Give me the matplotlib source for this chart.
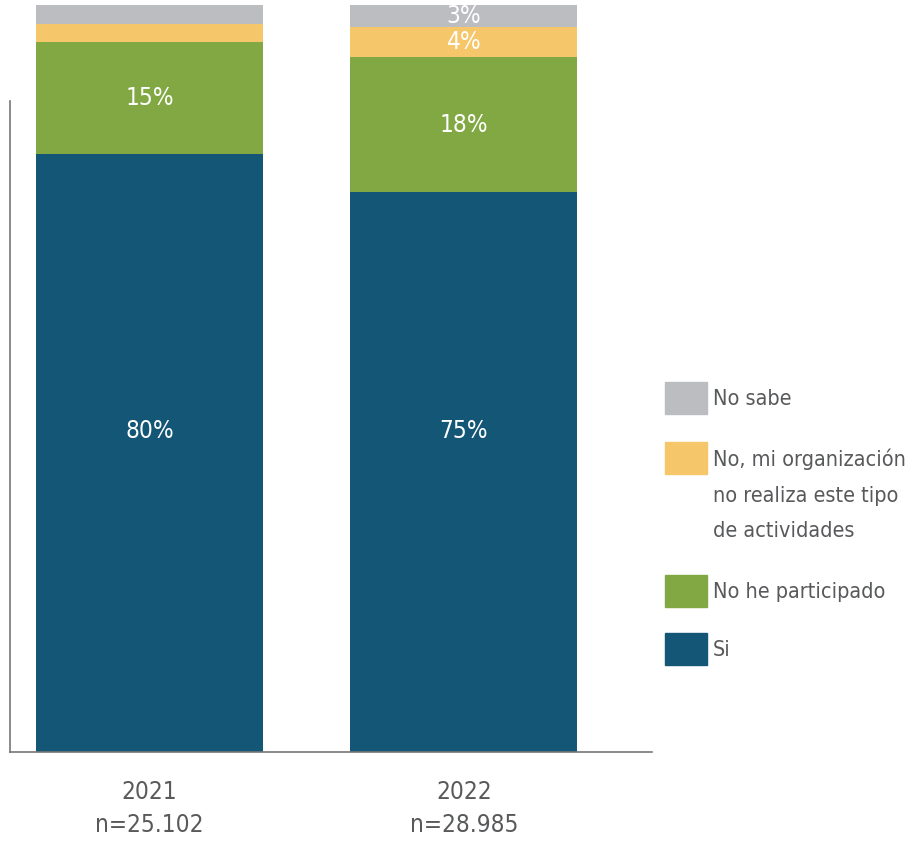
import matplotlib
matplotlib.use("Agg")
import matplotlib.pyplot as plt
from matplotlib.patches import Rectangle
import numpy as np

plt.rcParams['font.family'] = ['DejaVu Sans']
plt.rcParams['font.stretch'] = 'condensed'

years = ["2021\nn=25.102", "2022\nn=28.985"]
series = ["Si", "No he participado", "No, mi organización\nno realiza este tipo\nde actividades", "No sabe"]
si = [80, 75]
no_part = [15, 18]
no_org = [2.5, 4]
no_sabe = [2.5, 3]
labels_si = ["80%", "75%"]
labels_part = ["15%", "18%"]
labels_org = ["", "4%"]
labels_sabe = ["", "3%"]

colors = ["#135676", "#82a844", "#f5c66a", "#bcbdc0"]
txt = "#58595b"

fig = plt.figure(figsize=(9.07, 8.42), dpi=100)
ax = fig.add_axes([10 / 907, 1 - 752 / 842, 642 / 907, 747 / 842])

x = np.arange(len(years))
w = 0.722
vals = [si, no_part, no_org, no_sabe]
labs = [labels_si, labels_part, labels_org, labels_sabe]
bottom = np.zeros(len(years))
for i, (v, l) in enumerate(zip(vals, labs)):
    v = np.array(v, dtype=float)
    ax.bar(x, v, width=w, bottom=bottom, color=colors[i], edgecolor="none")
    for j in range(len(years)):
        if l[j]:
            yc = bottom[j] + v[j] / 2
            if i == 0:
                yc = 43
            ax.text(x[j], yc, l[j], ha="center", va="center", color="white", fontsize=17.5)
    bottom += v

ax.set_xlim(-0.4436, 1.598)
ax.set_ylim(0, 100)
ax.set_xticks(x)
ax.set_xticklabels(years, fontsize=17.5, color=txt, linespacing=1.5)
ax.tick_params(axis="x", length=0, pad=20)
ax.set_yticks([])
for s in ["top", "right"]:
    ax.spines[s].set_visible(False)
ax.spines["left"].set_bounds(0, 87.1)
ax.spines["left"].set_color("#777777")
ax.spines["bottom"].set_color("#777777")
ax.spines["left"].set_linewidth(1.2)
ax.spines["bottom"].set_linewidth(1.2)

# legend (top to bottom)
leg_items = [(colors[3], series[3], 398), (colors[2], series[2], 458),
             (colors[1], series[1], 591), (colors[0], series[0], 649)]
for c, name, yc in leg_items:
    fig.patches.append(Rectangle((665 / 907, 1 - (yc + 16) / 842), 42 / 907, 32 / 842,
                                 transform=fig.transFigure, color=c))
    fig.text(713 / 907, 1 - (yc - 9) / 842, name, ha="left", va="top",
             fontsize=15.5, color=txt, linespacing=1.95)

fig.savefig("out.png", dpi=100)
